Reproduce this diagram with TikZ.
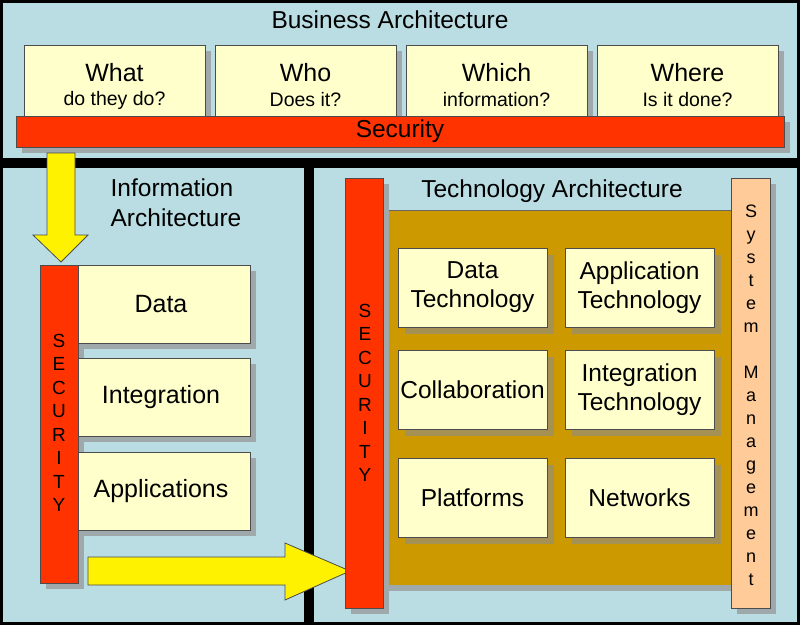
\documentclass[tikz,border=0pt]{standalone}
\usepackage{fontspec}
\setmainfont{Liberation Sans}
\definecolor{bg}{HTML}{B9DDE2}
\definecolor{cream}{HTML}{FFFFCC}
\definecolor{sec}{HTML}{FF3300}
\definecolor{brown}{HTML}{CC9900}
\definecolor{peach}{HTML}{FFCC99}
\definecolor{shd}{HTML}{9FA8AA}
\begin{document}
\begin{tikzpicture}[x=1pt,y=-1pt,
  box/.style={draw=black!70,line width=0.8pt,fill=cream},
  secbar/.style={draw=black!70,line width=0.8pt,fill=sec},
  shadow/.style={fill=shd,draw=none},
  big/.style={font=\fontsize{25}{29}\selectfont},
  small/.style={font=\fontsize{19.5}{22}\selectfont},
  vert/.style={font=\fontsize{19}{23.5}\selectfont,align=center},
  title/.style={font=\fontsize{24.5}{30}\selectfont}]
\useasboundingbox (0,0) rectangle (800,625);
\fill[bg] (0,0) rectangle (800,625);
% frames
\draw[line width=3pt] (1.5,1.5) rectangle (798.5,623.5);
\fill[black] (0,158) rectangle (800,168);
\fill[black] (304,160) rectangle (314,625);
% Business architecture
\node[title] (ba) at (390,20) {Business Architecture};
\foreach \x/\n/\a/\b in {24/what/What/do they do?,215/who/Who/Does it?,406/which/Which/information?,597/where/Where/Is it done?}{
  \fill[shadow] (\x+6,51) rectangle (\x+187,124);
  \draw[box] (\x,45) rectangle (\x+181,118);
  \node[big] (\n1) at (\x+90.5,73) {\a};
  \node[small] (\n2) at (\x+90.5,100) {\b};
}
\fill[shadow] (22,122) rectangle (790,153);
\draw[secbar] (16,116) rectangle (784,147);
\node[title] (sect) at (400,131) {Security};
% down arrow
\draw[black!70,line width=0.8pt,fill=yellow] (47,153) -- (75,153) -- (75,235) -- (88,235) -- (61,262) -- (33,235) -- (47,235) -- cycle;
% information architecture
\node[title,align=left] (ia) at (176,203) {Information\\Architecture};
\fill[shadow] (46,271) rectangle (84,589);
\draw[secbar] (40,265) rectangle (78,583);
\node[vert] (s1) at (59,423) {S\\E\\C\\U\\R\\I\\T\\Y};
\foreach \y/\n/\t in {265/d/Data,358/i/Integration,452/a/Applications}{
  \fill[shadow] (84,\y+6) rectangle (256,\y+84);
  \draw[box] (78,\y) rectangle (250,\y+78);
  \node[big] (\n) at (161,\y+39) {\t};
}
% right arrow
\draw[black!70,line width=0.8pt,fill=yellow] (88,557) -- (285,557) -- (285,543) -- (350,571) -- (285,600) -- (285,585) -- (88,585) -- cycle;
% technology architecture
\fill[shadow] (389,216) rectangle (738,591);
\fill[brown] (383,210) rectangle (732,585);
\draw[black!60,line width=0.6pt] (383,210) -- (732,210);
\node[title] (ta) at (552,191) {Technology Architecture};
\fill[shadow] (351,184) rectangle (389,614);
\draw[secbar] (345,178) rectangle (383,608);
\node[vert] (s2) at (365,393) {S\\E\\C\\U\\R\\I\\T\\Y};
\fill[shadow] (737,184) rectangle (776,614);
\draw[black!70,line width=0.8pt,fill=peach] (731,178) rectangle (770,608);
\node[vert,font=\fontsize{18}{23}\selectfont] (sm) at (751,395) {S\\y\\s\\t\\e\\m\\[23pt]M\\a\\n\\a\\g\\e\\m\\e\\n\\t};
\foreach \x/\y/\n/\t in {398/248/dt/{Data\\Technology},565/248/at/{Application\\Technology},398/350/co/{Collaboration},565/350/it/{Integration\\Technology},398/458/pl/{Platforms},565/458/nw/{Networks}}{
  \fill[black!45,opacity=0.6] (\x+7,\y+7) rectangle (\x+156,\y+86);
  \draw[box] (\x,\y) rectangle (\x+149,\y+79);
  \node[align=center,font=\fontsize{24.5}{29}\selectfont,inner sep=0pt] (\n) at (\x+74.5,\y+39.5) {\t};
}
\end{tikzpicture}
\end{document}
